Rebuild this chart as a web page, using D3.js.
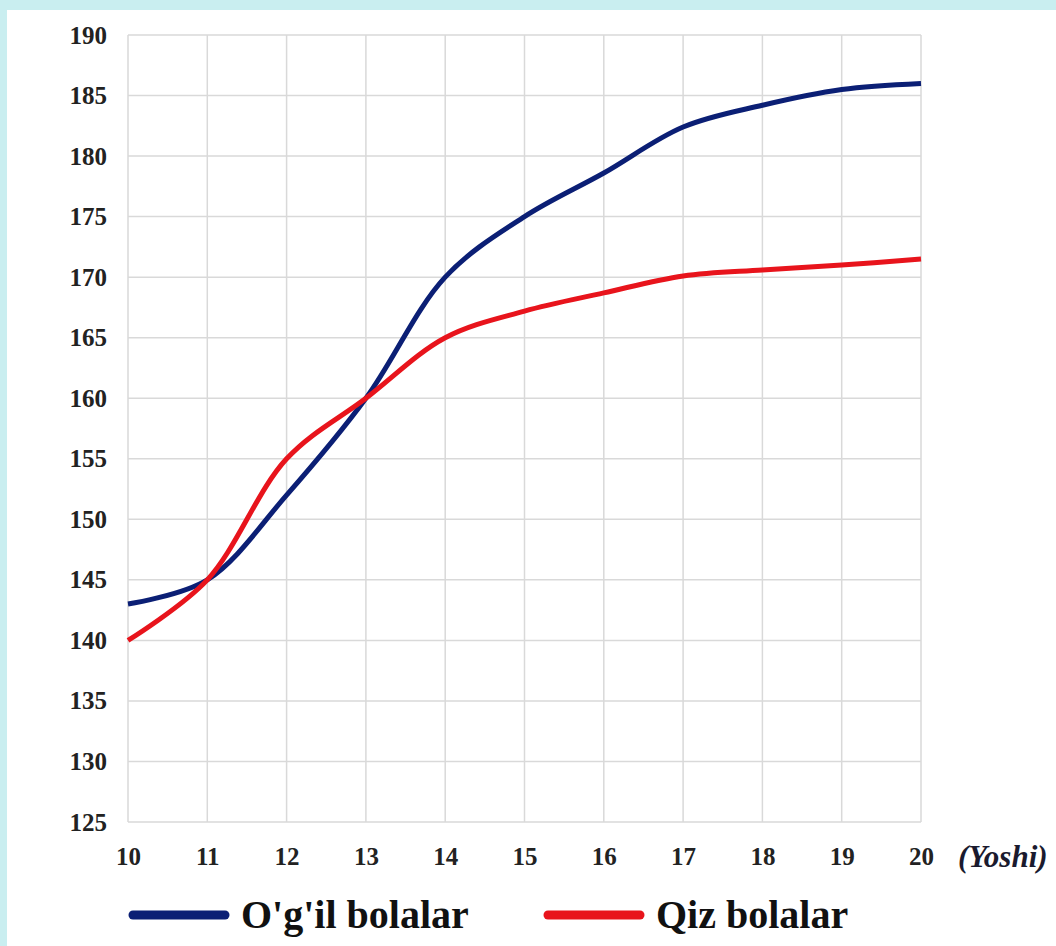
<!DOCTYPE html>
<html>
<head>
<meta charset="utf-8">
<script src="https://cdn.jsdelivr.net/npm/d3@7"></script>
<style>
  body { margin: 0; background: #c9eef0; }
  #chart { width: 1056px; height: 946px; }
</style>
</head>
<body>
<div id="chart"></div>
<script>
// data
const ages = [10, 11, 12, 13, 14, 15, 16, 17, 18, 19, 20];
const boys = [143, 145, 152, 160, 170, 175, 178.6, 182.4, 184.2, 185.5, 186];
const girls = [140, 145, 155, 160, 165, 167.2, 168.7, 170.1, 170.6, 171, 171.5];
const yTicks = [125, 130, 135, 140, 145, 150, 155, 160, 165, 170, 175, 180, 185, 190];
const seriesNames = ["O'g'il bolalar", "Qiz bolalar"];
const seriesColors = ['#0b1f75', '#e8141c'];

const W = 1056, H = 946;
const margin = { top: 35, right: 135, bottom: 124, left: 128 };
const width = W - margin.left - margin.right;
const height = H - margin.top - margin.bottom;

const svg = d3.select('#chart').append('svg')
  .attr('width', W).attr('height', H);

// white panel over the cyan backdrop
svg.append('rect').attr('x', 7).attr('y', 10).attr('width', W - 7).attr('height', H - 10)
  .attr('fill', '#fff');

const g = svg.append('g').attr('transform', `translate(${margin.left},${margin.top})`);

const x = d3.scaleLinear().domain([10, 20]).range([0, width]);
const y = d3.scaleLinear().domain([125, 190]).range([height, 0]);

// grid
g.append('g').selectAll('line').data(yTicks).join('line')
  .attr('x1', 0).attr('x2', width)
  .attr('y1', d => y(d)).attr('y2', d => y(d))
  .attr('stroke', '#d9d9d9').attr('stroke-width', 1.5);
g.append('g').selectAll('line').data(ages).join('line')
  .attr('y1', 0).attr('y2', height)
  .attr('x1', d => x(d)).attr('x2', d => x(d))
  .attr('stroke', '#d9d9d9').attr('stroke-width', 1.5);

// axes (labels only)
const yAxis = g.append('g').call(d3.axisLeft(y).tickValues(yTicks).tickSize(0).tickPadding(21));
const xAxis = g.append('g').attr('transform', `translate(0,${height})`)
  .call(d3.axisBottom(x).tickValues(ages).tickSize(0).tickPadding(25).tickFormat(d3.format('d')));
[yAxis, xAxis].forEach(a => {
  a.select('.domain').remove();
  a.selectAll('text')
    .attr('font-family', '"Liberation Serif", "DejaVu Serif", serif')
    .attr('font-weight', 'bold').attr('font-size', 25).attr('fill', '#222');
});

g.append('text').attr('x', width + 37).attr('y', height + 45)
  .attr('font-family', '"Liberation Serif", serif').attr('font-weight', 'bold')
  .attr('font-style', 'italic').attr('font-size', 31).attr('fill', '#1a1a2e')
  .text('(Yoshi)');

// lines
const line = d3.line().x((d, i) => x(ages[i])).y(d => y(d)).curve(d3.curveCatmullRom.alpha(0.5));
[boys, girls].forEach((s, k) => {
  g.append('path').datum(s).attr('d', line)
    .attr('fill', 'none').attr('stroke', seriesColors[k]).attr('stroke-width', 5)
    .attr('stroke-linejoin', 'round');
});

// legend
const legX = [133, 548];
const legY = 915;
seriesNames.forEach((n, k) => {
  svg.append('line').attr('x1', legX[k]).attr('x2', legX[k] + 92)
    .attr('y1', legY).attr('y2', legY)
    .attr('stroke', seriesColors[k]).attr('stroke-width', 9).attr('stroke-linecap', 'round');
  svg.append('text').attr('x', legX[k] + 108).attr('y', legY + 13)
    .attr('font-family', '"Liberation Serif", serif').attr('font-weight', 'bold')
    .attr('font-size', 40).attr('fill', '#111').text(n);
});
</script>
</body>
</html>
